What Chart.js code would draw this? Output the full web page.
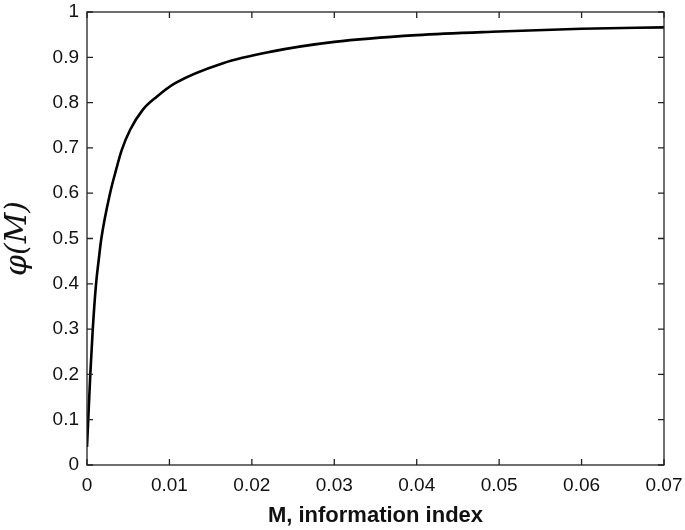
<!DOCTYPE html>
<html>
<head>
<meta charset="utf-8">
<script src="https://cdn.jsdelivr.net/npm/chart.js@4/dist/chart.umd.min.js"></script>
<style>
  html, body { margin: 0; padding: 0; background: #fff; }
  #wrap { width: 685px; height: 530px; }
</style>
</head>
<body>
<div id="wrap"><canvas id="myChart" width="685" height="530"></canvas></div>
<script>
'use strict';

// values
let infoIndex = [0, 0.00015, 0.0004, 0.0007, 0.0011, 0.00142, 0.00174, 0.0028, 0.00352, 0.00421, 0.00522, 0.00676, 0.00846, 0.0107, 0.0165, 0.0222, 0.03, 0.04, 0.05, 0.06, 0.07];
let phiValues = [0.04, 0.1, 0.2, 0.3, 0.4, 0.4525, 0.5, 0.6, 0.651, 0.695, 0.7395, 0.784, 0.813, 0.843, 0.887, 0.912, 0.934, 0.949, 0.957, 0.963, 0.966];
let xTicks = [0, 0.01, 0.02, 0.03, 0.04, 0.05, 0.06, 0.07];
let yTicks = [0, 0.1, 0.2, 0.3, 0.4, 0.5, 0.6, 0.7, 0.8, 0.9, 1];

let points = [];
for (let i = 0; i < infoIndex.length; i++) {
    points.push({x: infoIndex[i], y: phiValues[i]});
}

// matlab style box with ticks pointing inwards
let boxTicks = {
    id: 'boxTicks',
    afterDraw: function(chart) {
        let ctx = chart.ctx;
        let a = chart.chartArea;
        let xs = chart.scales.x;
        let ys = chart.scales.y;
        let len = 6;
        ctx.save();
        ctx.strokeStyle = '#222';
        ctx.lineWidth = 1.3;
        ctx.strokeRect(a.left, a.top, a.right - a.left, a.bottom - a.top);
        ctx.beginPath();
        xTicks.forEach(function(v) {
            let px = xs.getPixelForValue(v);
            ctx.moveTo(px, a.bottom);
            ctx.lineTo(px, a.bottom - len);
            ctx.moveTo(px, a.top);
            ctx.lineTo(px, a.top + len);
        });
        yTicks.forEach(function(v) {
            let py = ys.getPixelForValue(v);
            ctx.moveTo(a.left, py);
            ctx.lineTo(a.left + len, py);
            ctx.moveTo(a.right, py);
            ctx.lineTo(a.right - len, py);
        });
        ctx.stroke();
        ctx.restore();
    }
};

let tickFont = {family: 'Liberation Sans, Arial, sans-serif', size: 19};

let ctx = document.getElementById('myChart').getContext('2d');
let chart = new Chart(ctx, {
    type: 'scatter',
    data: {
        datasets: [{
            data: points,
            showLine: true,
            borderColor: '#000',
            borderWidth: 2.6,
            pointRadius: 0,
            cubicInterpolationMode: 'monotone',
            fill: false
        }]
    },
    options: {
        responsive: false,
        animation: false,
        layout: {padding: {top: 12, right: 21, bottom: 0, left: 0}},
        plugins: {
            legend: {display: false},
            tooltip: {enabled: false}
        },
        scales: {
            x: {
                type: 'linear',
                min: 0,
                max: 0.07,
                afterBuildTicks: function(scale) {
                    scale.ticks = xTicks.map(function(v) { return {value: v}; });
                },
                afterFit: function(scale) {
                    scale.height = 65;
                    scale.paddingLeft = 0;
                    scale.paddingRight = 0;
                },
                grid: {display: false, drawTicks: false},
                border: {display: false},
                ticks: {
                    color: '#111',
                    font: tickFont,
                    padding: 9,
                    maxRotation: 0,
                    callback: function(v) { return String(+v.toFixed(2)); }
                },
                title: {
                    display: true,
                    text: 'M, information index',
                    color: '#111',
                    font: {family: 'Liberation Sans, Arial, sans-serif', size: 22, weight: 'bold'},
                    padding: {top: 0, bottom: 1}
                }
            },
            y: {
                min: 0,
                max: 1,
                afterBuildTicks: function(scale) {
                    scale.ticks = yTicks.map(function(v) { return {value: v}; });
                },
                afterFit: function(scale) {
                    scale.width = 87;
                    scale.paddingTop = 0;
                    scale.paddingBottom = 0;
                },
                grid: {display: false, drawTicks: false},
                border: {display: false},
                ticks: {
                    color: '#111',
                    font: tickFont,
                    padding: 8,
                    callback: function(v) { return String(+v.toFixed(1)); }
                },
                title: {
                    display: true,
                    text: 'φ(M)',
                    color: '#111',
                    font: {family: 'DejaVu Serif, serif', size: 30, style: 'italic'},
                    padding: {top: 0, bottom: 0}
                }
            }
        }
    },
    plugins: [boxTicks]
});
</script>
</body>
</html>
